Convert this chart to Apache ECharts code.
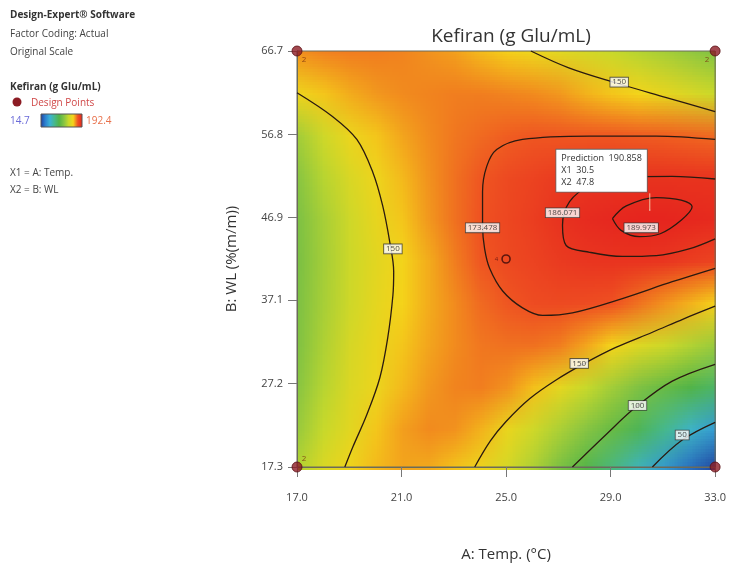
<!DOCTYPE html>
<html>
<head>
<meta charset="utf-8">
<script src="https://cdn.jsdelivr.net/npm/echarts@6/dist/echarts.min.js"></script>
<style>
  html, body { margin: 0; padding: 0; background: #fff; }
  #wrap { position: relative; width: 729px; height: 567px; }
  #heatClip { position: absolute; left: 297px; top: 51px; width: 419px; height: 419px; overflow: hidden; z-index: 0; }
  #heat { position: absolute; width: 17px; height: 11px; transform-origin: 0 0; }
  #main { position: absolute; left: 0; top: 0; width: 729px; height: 567px; z-index: 1; }
</style>
</head>
<body>
<div id="wrap">
  <div id="heatClip"><div id="heat"></div></div>
  <div id="main"></div>
</div>
<script>
// grid where the surface was read (A: Temp, B: WL)
let tempA = [17, 18, 19, 20, 21, 22, 23, 24, 25, 26, 27, 28, 29, 30, 31, 32, 33]
let wlB = [17.3, 22.24, 27.18, 32.12, 37.06, 42.0, 46.94, 51.88, 56.82, 61.76, 66.7]

// Kefiran values, one row per WL value (bottom to top)
let kefiranRows = [
    [128, 142, 151, 157, 160, 159, 155, 149, 139, 125, 108, 93, 77, 60, 44, 28, 15],
    [119, 134, 145, 155, 161, 164, 163, 158, 148, 137, 125, 114, 102, 89, 74, 59, 45],
    [114, 129, 142, 149, 157, 162, 165, 166, 163, 156, 146, 134, 122, 111, 102, 93, 84],
    [111, 126, 140, 148, 155, 160, 164, 167, 168, 168, 166, 160, 152, 143, 136, 127, 119],
    [110, 124, 137, 146, 153, 159, 164, 169, 172, 175, 176, 175, 173, 168, 163, 158, 153],
    [109, 123, 136, 145, 152, 159, 166, 172, 176, 179, 182, 184, 185, 185, 184, 181, 178],
    [110, 124, 137, 147, 155, 162, 168, 173, 177, 181, 185.5, 188.3, 189.9, 191, 191, 190, 188.5],
    [114, 129, 141, 150, 157, 163, 168, 172, 176, 179, 182, 184, 185, 185.5, 185.5, 185, 185],
    [122, 137, 149, 155, 160, 164, 167, 169, 171, 172, 172, 172, 172, 171.5, 171, 170, 169],
    [150, 155, 159, 162, 164, 165, 166, 166, 165, 164, 162, 158, 155, 152, 147, 141, 135],
    [163, 165, 166, 166, 165, 163, 161, 157, 154, 150, 145, 140, 135, 129, 124, 118, 112]
]

let kefMin = 14.7
let kefMax = 192.4

// contour lines (A, B)
let c150Left = [[17.0, 61.75], [18.37, 58.9], [19.29, 56.2], [19.9, 52.3], [20.28, 48.3], [20.55, 44.0], [20.7, 40.5], [20.67, 37.7], [20.47, 32.6], [20.17, 27.9], [19.67, 23.5], [19.14, 19.7], [18.83, 17.3]]
let c150Top = [[25.95, 66.7], [27.4, 64.7], [29.22, 62.9], [31.1, 61.2], [33.0, 59.5]]
let c150Bottom = [[23.8, 17.3], [24.4, 20.4], [25.0, 22.7], [25.9, 25.4], [26.9, 27.6], [28.0, 29.6], [29.2, 31.5], [30.6, 33.3], [31.8, 34.9], [33.0, 36.4]]
let c100 = [[27.54, 17.3], [28.84, 21.2], [30.0, 24.5], [31.36, 27.5], [33.0, 29.5]]
let c50 = [[30.6, 17.3], [31.74, 20.5], [33.0, 22.6]]
let c173 = [[33.0, 56.2], [30.75, 56.6], [28.2, 56.6], [25.63, 56.2], [24.64, 55.0], [24.26, 53.0], [24.1, 50.0], [24.1, 46.0], [24.18, 43.2], [24.37, 40.9], [24.87, 38.2], [25.63, 36.2], [26.4, 35.3], [27.54, 35.6], [29.45, 37.3], [31.36, 39.3], [33.0, 40.9]]
let c186 = [[33.0, 51.5], [31.36, 51.8], [29.45, 51.7], [28.2, 50.7], [27.43, 48.8], [27.16, 46.0], [27.3, 43.6], [28.2, 42.8], [29.45, 42.3], [30.75, 42.4], [32.0, 43.2], [33.0, 44.4]]
let c190 = [[29.07, 46.8], [29.6, 48.3], [30.75, 49.3], [31.7, 49.0], [32.12, 48.2], [31.7, 46.6], [30.9, 45.0], [30.1, 44.65], [29.4, 45.4], [29.07, 46.8]]

// contour label spots and texts
let contourLabels = [
    [20.67, 43.2, '150'], [29.33, 63.0, '150'], [27.8, 29.6, '150'], [30.03, 24.6, '100'], [31.74, 21.1, '50'],
    [24.1, 45.7, '173.478'], [27.16, 47.5, '186.071'], [30.17, 45.7, '189.973']
]

// design points
let cornerPoints = [[17, 17.3], [17, 66.7], [33, 66.7], [33, 17.3]]
let cornerReps = ['2', '2', '2', '']
let centerPoint = [[25, 42.0]]

// prediction flag
let predA = 30.5
let predB = 47.8
let predValue = 190.858
let flagTopB = 49.8

let xTicks = [17, 21, 25, 29, 33]
let yTicks = [17.3, 27.2, 37.1, 46.9, 56.8, 66.7]

let colors = ['#1f3d99', '#2b7fcf', '#3bb2d6', '#46b88c', '#52b447', '#86c443', '#c6d92c', '#f5d41a', '#ef5222', '#e5221e']

// ---------- surface layer: one pixel per grid point, scaled up by the browser ----------
let stepX = 419 / (tempA.length - 1)
let stepY = 419 / (wlB.length - 1)
let heatDiv = document.getElementById('heat')
heatDiv.style.left = (-stepX / 2) + 'px'
heatDiv.style.top = (-stepY / 2) + 'px'
heatDiv.style.transform = `scale(${stepX}, ${stepY})`

let heatData = []
kefiranRows.forEach((row, j) => {
    row.forEach((v, i) => heatData.push([i, j, v]))
})

let heatChart = echarts.init(heatDiv, null, { renderer: 'canvas', devicePixelRatio: 1 })
heatChart.setOption({
    animation: false,
    grid: { left: 0, right: 0, top: 0, bottom: 0 },
    xAxis: { type: 'category', data: tempA, show: false },
    yAxis: { type: 'category', data: wlB, show: false },
    visualMap: { type: 'continuous', show: false, min: kefMin, max: kefMax, dimension: 2, inRange: { color: colors } },
    series: [{
        type: 'custom',
        encode: { x: 0, y: 1 },
        data: heatData,
        renderItem: (params, api) => {
            let p = api.coord([api.value(0), api.value(1)])
            let s = api.size([1, 1])
            return {
                type: 'rect',
                shape: { x: p[0] - s[0] / 2, y: p[1] - s[1] / 2, width: s[0], height: s[1] },
                style: { fill: api.visual('color') }
            }
        }
    }]
})

// ---------- axes, contours, labels ----------
let myChart = echarts.init(document.getElementById('main'), null, { renderer: 'canvas', devicePixelRatio: 1 })
let font = '"Open Sans", "Noto Sans", sans-serif'

let contourLine = (data) => ({
    type: 'line',
    data: data,
    smooth: 0.35,
    symbol: 'none',
    silent: true,
    lineStyle: { color: '#2a1a10', width: 1.3 },
    z: 2
})

let stops = colors.map((c, i) => ({ offset: i / (colors.length - 1), color: c }))

myChart.setOption({
    animation: false,
    textStyle: { fontFamily: font },
    title: {
        text: 'Kefiran (g Glu/mL)',
        left: 506,
        top: 22,
        textAlign: 'center',
        textStyle: { fontSize: 19, fontWeight: 'normal', color: '#333', fontFamily: font }
    },
    grid: { left: 297, top: 51, width: 419, height: 419, show: true, borderColor: '#6b6b5a', borderWidth: 1, backgroundColor: 'transparent' },
    xAxis: {
        type: 'value', min: 17, max: 33,
        name: 'A: Temp. (°C)', nameLocation: 'middle', nameGap: 80,
        nameTextStyle: { fontSize: 15, color: '#333' },
        axisLine: { lineStyle: { color: '#6b6b5a' } },
        axisTick: { show: true, length: 10, customValues: xTicks, lineStyle: { color: '#777' } },
        axisLabel: { customValues: xTicks, formatter: v => v.toFixed(1), fontSize: 11, color: '#444', margin: 25 },
        splitLine: { show: false }
    },
    yAxis: {
        type: 'value', min: 17.3, max: 66.7,
        name: 'B: WL (%(m/m))', nameLocation: 'middle', nameGap: 58, nameRotate: 90,
        nameTextStyle: { fontSize: 15, color: '#333' },
        axisLine: { show: true, lineStyle: { color: '#6b6b5a' } },
        axisTick: { show: true, length: 9, customValues: yTicks, lineStyle: { color: '#777' } },
        axisLabel: { customValues: yTicks, formatter: v => v.toFixed(1), fontSize: 11, color: '#444', margin: 14 },
        splitLine: { show: false }
    },
    series: [
        contourLine(c150Left),
        contourLine(c150Top),
        contourLine(c150Bottom),
        contourLine(c100),
        contourLine(c50),
        contourLine(c173),
        contourLine(c186),
        contourLine(c190),
        {
            // pointer of the prediction flag
            type: 'line',
            data: [[predA, predB], [predA, flagTopB]],
            symbol: 'none',
            silent: true,
            lineStyle: { color: '#f3c2a0', width: 1 },
            z: 3
        },
        {
            type: 'scatter',
            data: contourLabels,
            symbol: 'rect',
            symbolSize: 1,
            itemStyle: { color: 'transparent' },
            silent: true,
            z: 4,
            label: {
                show: true, position: 'inside',
                formatter: p => p.value[2],
                fontSize: 8, color: '#222',
                backgroundColor: '#fff', borderColor: '#333', borderWidth: 0.8,
                padding: [1, 2, 0, 2]
            }
        },
        {
            type: 'scatter',
            data: [[predA, predB]],
            symbol: 'rect',
            symbolSize: 1,
            itemStyle: { color: '#fff' },
            silent: true,
            z: 5,
            label: {
                show: true, position: [-93, -60], align: 'left', opacity: 1,
                formatter: `Prediction  ${predValue}\nX1  ${predA}\nX2  ${predB}`,
                fontSize: 9, lineHeight: 12, color: '#333',
                backgroundColor: '#ffffff', borderColor: '#666', borderWidth: 0.8,
                padding: [3, 5, 3, 5]
            }
        },
        {
            type: 'scatter',
            data: cornerPoints.map((p, i) => ({ value: p, rep: cornerReps[i] })),
            symbolSize: 10,
            clip: false,
            silent: true,
            z: 6,
            itemStyle: { color: '#8c1c24', borderColor: '#5a0f14', borderWidth: 1 },
            label: {
                show: true,
                formatter: p => p.data.rep,
                fontSize: 8, color: '#7a3010',
                position: 'inside'
            },
            labelLayout: p => {
                let dx = p.dataIndex < 2 ? 7 : -8
                let dy = p.dataIndex === 0 || p.dataIndex === 3 ? -8 : 9
                return { dx: dx, dy: dy }
            }
        },
        {
            type: 'scatter',
            data: centerPoint,
            symbolSize: 8,
            silent: true,
            z: 6,
            itemStyle: { color: 'transparent', borderColor: '#3a0a0a', borderWidth: 1.6 },
            label: { show: true, formatter: '4', position: 'left', distance: 3, fontSize: 6, color: '#5a1010' }
        }
    ],
    graphic: [
        { type: 'text', x: 10, y: 15, style: { text: 'Design-Expert® Software', font: `bold 10px ${font}`, fill: '#333', verticalAlign: 'middle' } },
        { type: 'text', x: 10, y: 34, style: { text: 'Factor Coding: Actual', font: `10px ${font}`, fill: '#444', verticalAlign: 'middle' } },
        { type: 'text', x: 10, y: 52, style: { text: 'Original Scale', font: `10px ${font}`, fill: '#444', verticalAlign: 'middle' } },
        { type: 'text', x: 10, y: 87, style: { text: 'Kefiran (g Glu/mL)', font: `bold 10px ${font}`, fill: '#333', verticalAlign: 'middle' } },
        { type: 'circle', shape: { cx: 17, cy: 102, r: 4.5 }, style: { fill: '#8c1c24' } },
        { type: 'text', x: 31, y: 103, style: { text: 'Design Points', font: `10px ${font}`, fill: '#d04848', verticalAlign: 'middle' } },
        { type: 'text', x: 10, y: 121, style: { text: String(kefMin), font: `10px ${font}`, fill: '#6a6ad8', verticalAlign: 'middle' } },
        { type: 'rect', shape: { x: 41, y: 114, width: 41, height: 13 }, style: { fill: new echarts.graphic.LinearGradient(0, 0, 1, 0, stops), stroke: '#555', lineWidth: 1 } },
        { type: 'text', x: 86, y: 121, style: { text: String(kefMax), font: `10px ${font}`, fill: '#e8704a', verticalAlign: 'middle' } },
        { type: 'text', x: 10, y: 173, style: { text: 'X1 = A: Temp.', font: `10px ${font}`, fill: '#444', verticalAlign: 'middle' } },
        { type: 'text', x: 10, y: 190, style: { text: 'X2 = B: WL', font: `10px ${font}`, fill: '#444', verticalAlign: 'middle' } }
    ]
})
</script>
</body>
</html>
